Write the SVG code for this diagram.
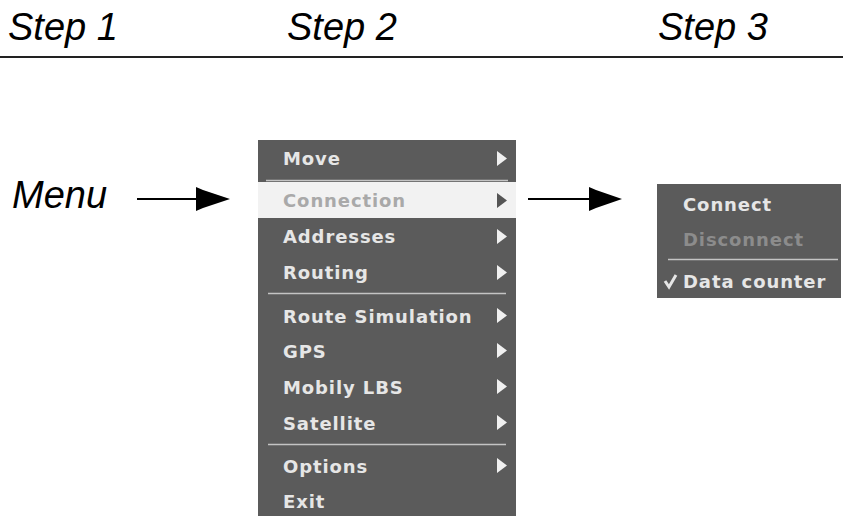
<svg xmlns="http://www.w3.org/2000/svg" width="843" height="516" viewBox="0 0 843 516">
<style>
.step{font-family:"Liberation Sans",Arial,sans-serif;font-style:italic;font-size:38px;fill:#000}
.mi{font-family:"DejaVu Sans",Verdana,sans-serif;font-weight:bold;font-size:18px;letter-spacing:0.9px;fill:#e6e6e6}
.dis{fill:#8c8c8c}
.hl{fill:#a9a9a9}
.panel{fill:#5b5b5b}
.sep{stroke:#c4c4c4;stroke-width:1.5}
.tri{fill:#f0f0f0}
.conn{stroke:#000;stroke-width:2;fill:none}
.head{fill:#000}
</style>
<rect width="843" height="516" fill="#fff"/>
<g id="header">
<text class="step" x="8" y="40">Step 1</text>
<text class="step" x="287" y="40">Step 2</text>
<text class="step" x="658" y="40">Step 3</text>
<line x1="0" y1="57" x2="843" y2="57" stroke="#222" stroke-width="2"/>
</g>
<g id="menu-label">
<text class="step" x="12" y="208">Menu</text>
</g>
<g id="main-menu">
<rect class="panel" x="258" y="140" width="258" height="376"/>
<rect x="258" y="182" width="258" height="36" fill="#f2f2f2"/>
<line class="sep" x1="266" y1="180.5" x2="508" y2="180.5"/>
<line class="sep" x1="268" y1="293.5" x2="506" y2="293.5"/>
<line class="sep" x1="268" y1="444.5" x2="506" y2="444.5"/>
<text class="mi" x="283" y="165">Move</text>
<text class="mi hl" x="283" y="207">Connection</text>
<text class="mi" x="283" y="243">Addresses</text>
<text class="mi" x="283" y="279">Routing</text>
<text class="mi" x="283" y="323">Route Simulation</text>
<text class="mi" x="283" y="358">GPS</text>
<text class="mi" x="283" y="394">Mobily LBS</text>
<text class="mi" x="283" y="430">Satellite</text>
<text class="mi" x="283" y="473">Options</text>
<text class="mi" x="283" y="508">Exit</text>
<polygon class="tri" points="497,151 507,158.5 497,166"/>
<polygon points="497,193 507,200.5 497,208" fill="#555"/>
<polygon class="tri" points="497,229 507,236.5 497,244"/>
<polygon class="tri" points="497,265 507,272.5 497,280"/>
<polygon class="tri" points="497,308 507,315.5 497,323"/>
<polygon class="tri" points="497,343 507,350.5 497,358"/>
<polygon class="tri" points="497,379 507,386.5 497,394"/>
<polygon class="tri" points="497,415 507,422.5 497,430"/>
<polygon class="tri" points="497,458 507,465.5 497,473"/>
</g>
<g id="sub-menu">
<rect class="panel" x="657" y="184" width="184" height="114"/>
<text class="mi" x="683" y="211">Connect</text>
<text class="mi dis" x="683" y="246">Disconnect</text>
<line class="sep" x1="668" y1="259.5" x2="838" y2="259.5"/>
<polyline points="665,281 669,287 676,275" fill="none" stroke="#e6e6e6" stroke-width="3"/>
<text class="mi" x="683" y="288">Data counter</text>
</g>
<g id="connectors">
<line class="conn" x1="137" y1="199" x2="200" y2="199"/>
<polygon class="head" points="196,187 203,190 230,199 203,208 196,211"/>
<line class="conn" x1="528" y1="199" x2="593" y2="199"/>
<polygon class="head" points="589,187 596,190 622,199 596,208 589,211"/>
</g>
</svg>
